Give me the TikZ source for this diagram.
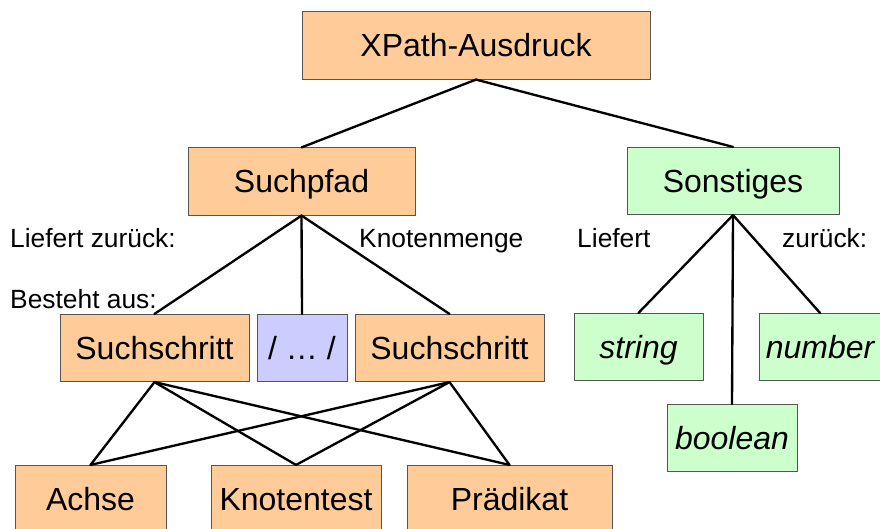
\documentclass[tikz,border=0pt]{standalone}
\usepackage{fontspec}
\setmainfont{Liberation Sans}
\usepackage{xcolor}
\definecolor{orangebox}{HTML}{FFCC99}
\definecolor{greenbox}{HTML}{CCFFCC}
\definecolor{bluebox}{HTML}{CCCCFF}
\definecolor{boxline}{HTML}{555555}
\tikzset{
  kasten/.style={draw=boxline, line width=0.7pt, inner sep=0pt,
    minimum height=2.02cm, text height=19.6pt, text depth=0pt,
    font=\fontsize{27.3}{30}\selectfont},
  orange/.style={kasten, fill=orangebox},
  gruen/.style={kasten, fill=greenbox},
  blau/.style={kasten, fill=bluebox},
  hinweis/.style={anchor=base west, inner sep=0pt, font=\fontsize{22.5}{26}\selectfont},
  kante/.style={line width=2pt, line cap=round}
}

\begin{document}
\begin{tikzpicture}[x=0.03cm, y=-0.03cm]
		\clip (0,0) rectangle (880,528);
		\useasboundingbox (0,0) rectangle (880,528);
		% Kästen
		\node [orange, minimum width=10.44cm] (xpath) at (476,45.5) {XPath-Ausdruck};
		\node [orange, minimum width=6.81cm] (suchpfad) at (301.5,181.5) {Suchpfad};
		\node [gruen, minimum width=6.36cm] (sonst) at (733,181) {Sonstiges};
		\node [orange, minimum width=5.67cm] (schritta) at (154.5,348) {Suchschritt};
		\node [blau, minimum width=2.7cm] (punkte) at (302,348) {/ … /};
		\node [orange, minimum width=5.67cm] (schrittb) at (449.5,348) {Suchschritt};
		\node [gruen, minimum width=3.87cm] (string) at (638.5,347) {\itshape string};
		\node [gruen, minimum width=3.63cm] (number) at (820,347) {\itshape number};
		\node [gruen, minimum width=3.9cm] (boolean) at (732,438) {\itshape boolean};
		\node [orange, minimum width=4.53cm] (achse) at (90.5,499) {Achse};
		\node [orange, minimum width=5.1cm] (knoten) at (296,499) {Knotentest};
		\node [orange, minimum width=6.15cm] (praedikat) at (509.5,499) {Prädikat};
		% Kanten
		\draw [kante] (xpath.south) -- (suchpfad.north);
		\draw [kante] (xpath.south) -- (sonst.north);
		\draw [kante] (suchpfad.south) -- (schritta.north);
		\draw [kante] (suchpfad.south) -- (punkte.north);
		\draw [kante] (suchpfad.south) -- (schrittb.north);
		\draw [kante] (sonst.south) -- (string.north);
		\draw [kante] (sonst.south) -- (boolean.north);
		\draw [kante] (sonst.south) -- (number.north);
		\foreach \s in {schritta, schrittb}
		  \foreach \z in {achse, knoten, praedikat}
		    \draw [kante] (\s.south) -- (\z.north);
		% Hinweise
		\node [hinweis] (lz) at (10,247) {Liefert zurück:};
		\node [hinweis] (km) at (359,247) {Knotenmenge};
		\node [hinweis] (lf) at (577,247) {Liefert};
		\node [hinweis] (zr) at (782,247) {zurück:};
		\node [hinweis] (ba) at (10,308) {Besteht aus:};
\end{tikzpicture}
\end{document}
